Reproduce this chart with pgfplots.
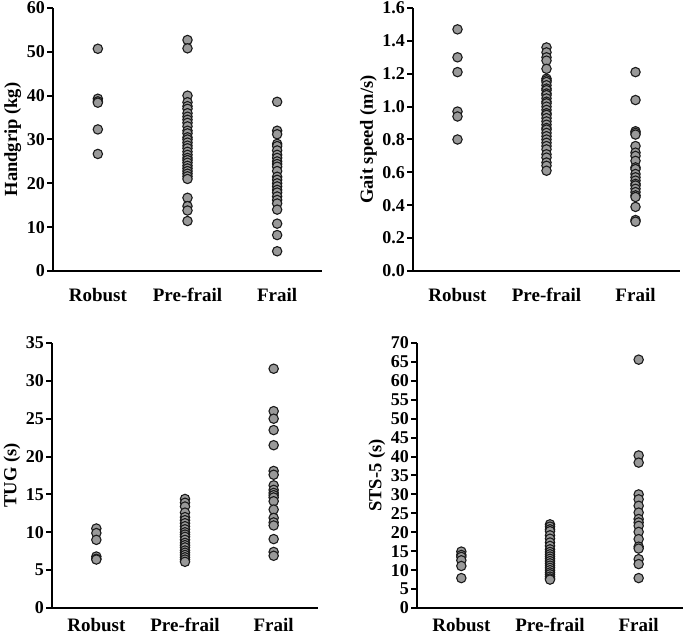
\documentclass[border=0pt]{standalone}
\usepackage{fontspec}
\setmainfont{Liberation Serif}
\usepackage{pgfplots}
\pgfplotsset{compat=1.18}
\definecolor{dotfill}{HTML}{999999}
\definecolor{dotedge}{HTML}{1A1A1A}

\pgfplotsset{
  panel/.style={
    anchor=south west, scale only axis,
    axis lines=left, axis line style={-, line width=2.4pt, black},
    xmin=-0.5, xmax=2.5, ymin=0,
    xtick={0,1,2}, xticklabels={Robust,Pre-frail,Frail},
    major x tick style={draw=none},
    major y tick style={line width=2pt, black},
    tick align=outside, major tick length=6pt,
    /pgf/number format/assume math mode=true,
    yticklabel style={font=\fontsize{18}{18}\selectfont\bfseries, inner sep=2pt},
    xticklabel style={font=\fontsize{19}{19}\selectfont\bfseries, yshift=-7.5pt},
    ylabel style={font=\fontsize{18.5}{19}\selectfont\bfseries},
    clip=false,
  },
  lowrow/.style={xticklabel style={yshift=6.5pt}},
  dots/.style={only marks, mark=*, mark size=4.7pt,
    mark options={fill=dotfill, draw=dotedge, line width=1.1pt}},
}

\begin{document}
\begin{tikzpicture}[x=1pt,y=1pt]
% Handgrip
\begin{axis}[panel, at={(53pt,365pt)}, width=269pt, height=263pt,
  ymax=60, ytick distance=10, ylabel={Handgrip (kg)}]
  \addplot[dots] coordinates {
    (0,50.7)(0,39.3)(0,38.7)(0,38.4)(0,32.3)(0,26.7)};
  \addplot[dots] coordinates {
    (1,52.7)(1,50.8)(1,40.0)(1,38.5)(1,37.6)(1,37.0)(1,36.0)(1,35.2)(1,34.5)
    (1,33.8)(1,33.0)(1,32.0)(1,31.4)(1,30.5)(1,30.0)(1,29.3)(1,28.6)(1,28.0)
    (1,27.2)(1,26.5)(1,25.8)(1,25.3)(1,24.7)(1,24.0)(1,23.4)(1,22.8)(1,22.2)
    (1,21.6)(1,21.0)(1,16.7)(1,14.8)(1,13.8)(1,11.4)};
  \addplot[dots] coordinates {
    (2,38.6)(2,32.0)(2,31.2)(2,29.0)(2,28.5)(2,27.5)(2,26.5)(2,25.8)(2,25.0)
    (2,24.4)(2,23.8)(2,22.8)(2,21.5)(2,20.8)(2,20.0)(2,19.3)(2,18.5)(2,17.9)
    (2,17.0)(2,16.2)(2,15.4)(2,14.0)(2,10.8)(2,8.2)(2,4.5)};
\end{axis}
% Gait speed
\begin{axis}[panel, at={(413pt,365pt)}, width=267pt, height=263pt,
  ymax=1.6, ytick distance=0.2, ylabel={Gait speed (m/s)},
  yticklabel style={/pgf/number format/.cd, fixed, fixed zerofill, precision=1}]
  \addplot[dots] coordinates {
    (0,1.47)(0,1.30)(0,1.21)(0,0.97)(0,0.94)(0,0.80)};
  \addplot[dots] coordinates {
    (1,1.36)(1,1.33)(1,1.30)(1,1.28)(1,1.23)(1,1.17)(1,1.16)(1,1.15)(1,1.13)
    (1,1.11)(1,1.10)(1,1.08)(1,1.07)(1,1.05)(1,1.03)(1,1.02)(1,1.00)(1,0.98)
    (1,0.96)(1,0.95)(1,0.93)(1,0.91)(1,0.89)(1,0.87)(1,0.86)(1,0.84)(1,0.82)
    (1,0.80)(1,0.78)(1,0.76)(1,0.74)(1,0.71)(1,0.69)(1,0.66)(1,0.64)(1,0.61)};
  \addplot[dots] coordinates {
    (2,1.21)(2,1.04)(2,0.85)(2,0.84)(2,0.83)(2,0.76)(2,0.72)(2,0.70)(2,0.67)
    (2,0.63)(2,0.62)(2,0.59)(2,0.57)(2,0.55)(2,0.53)(2,0.52)(2,0.50)(2,0.48)
    (2,0.46)(2,0.45)(2,0.39)(2,0.31)(2,0.30)};
\end{axis}
% TUG
\begin{axis}[panel, lowrow, at={(52pt,28pt)}, width=266pt, height=265pt,
  ymax=35, ytick distance=5, ylabel={TUG (s)}]
  \addplot[dots] coordinates {
    (0,10.5)(0,9.9)(0,9.0)(0,6.8)(0,6.5)(0,6.4)};
  \addplot[dots] coordinates {
    (1,14.4)(1,13.9)(1,13.4)(1,12.6)(1,12.0)(1,11.6)(1,11.2)(1,10.8)(1,10.4)
    (1,10.0)(1,9.7)(1,9.4)(1,9.0)(1,8.6)(1,8.3)(1,8.0)(1,7.6)(1,7.3)(1,7.0)
    (1,6.7)(1,6.4)(1,6.1)};
  \addplot[dots] coordinates {
    (2,31.6)(2,26.0)(2,25.0)(2,23.5)(2,21.5)(2,18.1)(2,17.6)(2,16.2)(2,15.6)
    (2,15.2)(2,14.9)(2,14.6)(2,14.1)(2,13.0)(2,11.9)(2,11.3)(2,10.9)(2,9.1)
    (2,7.4)(2,6.9)};
\end{axis}
% STS-5
\begin{axis}[panel, lowrow, at={(417pt,28pt)}, width=266pt, height=265pt,
  ymax=70, ytick distance=5, ylabel={STS-5 (s)}]
  \addplot[dots] coordinates {
    (0,14.9)(0,14.0)(0,13.5)(0,12.6)(0,11.1)(0,7.9)};
  \addplot[dots] coordinates {
    (1,22.1)(1,21.5)(1,20.8)(1,20.3)(1,19.2)(1,18.3)(1,17.3)(1,16.4)(1,15.5)
    (1,14.8)(1,14.2)(1,13.6)(1,13.0)(1,12.4)(1,11.8)(1,11.2)(1,10.6)(1,10.0)
    (1,9.4)(1,8.9)(1,8.3)(1,7.8)(1,7.5)};
  \addplot[dots] coordinates {
    (2,65.6)(2,40.3)(2,38.4)(2,30.0)(2,28.7)(2,27.0)(2,25.2)(2,23.5)(2,22.6)
    (2,21.7)(2,20.1)(2,18.2)(2,16.2)(2,15.7)(2,12.9)(2,11.6)(2,7.9)};
\end{axis}
\pgfresetboundingbox
\path[use as bounding box] (0pt,0pt) rectangle (685pt,636pt);
\end{tikzpicture}
\end{document}
